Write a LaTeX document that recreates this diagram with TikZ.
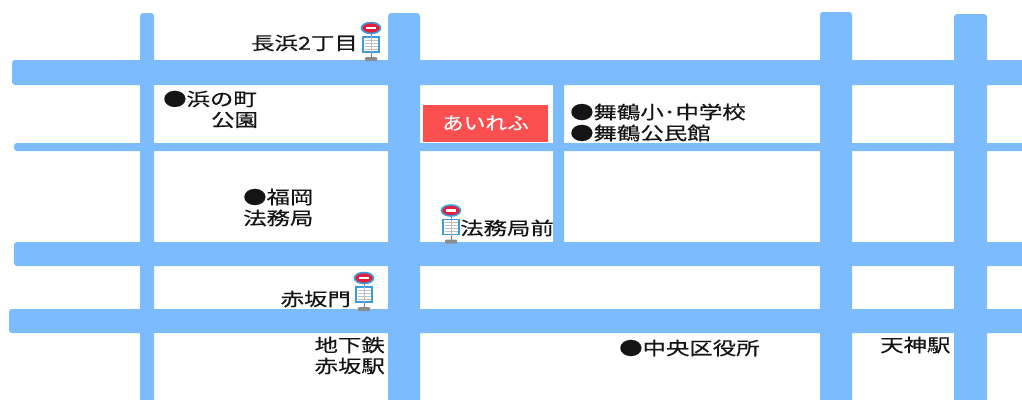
\documentclass[tikz,border=0pt]{standalone}
\usepackage{fontspec}
\setmainfont{Noto Sans CJK JP}[FakeBold=0.35,AutoFakeBold=false]
\newcommand{\maplabel}[1]{\scalebox{1.3}[1]{\addfontfeature{FakeBold=0.35}#1}}
\definecolor{road}{HTML}{7DBBFF}
\definecolor{shopred}{HTML}{FB4F50}
\definecolor{signblue}{HTML}{3F9BDD}
\definecolor{signred}{HTML}{E0203A}
\tikzset{
  x=1pt,y=-1pt,
  roadline/.style={fill=road,draw=none,rounded corners=3pt},
  place/.style={inner sep=0pt,font=\fontsize{18}{22}\selectfont,text=black!92,align=left},
  placer/.style={place,anchor=east,align=right},
  busstop/.pic={
    \fill[black!45,rounded corners=1pt] (-6,21) rectangle (6,25);
    \draw[black!50,line width=.8pt] (0,-3) -- (0,22);
    \fill[white] (-8,1) rectangle (8,16);
    \draw[signblue,line width=1.2pt] (-8,1) rectangle (8,16);
    \foreach \yy in {4,7,10,13}{\draw[black!25,line width=.5pt] (-6.5,\yy) -- (6.5,\yy);}
    \draw[black!25,line width=.5pt] (0,1) -- (0,16);
    \fill[signred,draw=signblue,line width=1.6pt] (0,-8) ellipse (9.5 and 5.5);
    \fill[white] (-5,-9.2) rectangle (5,-6.8);
  }
}
\begin{document}
\begin{tikzpicture}
\useasboundingbox (0,0) rectangle (1022,399);
% roads
\fill[roadline] (140,13) rectangle (154,405);
\fill[roadline] (388,13) rectangle (420,405);
\fill[roadline] (553,80) rectangle (564,247);
\fill[roadline] (820,12) rectangle (852,405);
\fill[roadline] (954,14) rectangle (987,405);
\fill[roadline] (12,60) rectangle (1030,85);
\fill[roadline] (14,143) rectangle (1030,151);
\fill[roadline] (14,242) rectangle (1030,266);
\fill[roadline] (9,309) rectangle (1030,333);
% shop
\node[fill=shopred,draw=none,minimum width=125pt,minimum height=37pt,inner sep=0pt,text=white,font=\fontsize{18}{20}\selectfont] (shop) at (485.5,123) {\scalebox{1.2}[1]{あいれふ}};
% bus stops
\pic at (371,36) {busstop};
\pic at (451,218.5) {busstop};
\pic at (364,286) {busstop};
% labels
\node[placer] (nagahama) at (358,43) {\maplabel{長浜2丁目}};
\node[place,anchor=west] (houmukyokumae) at (460,228) {\maplabel{法務局前}};
\node[placer] (akasakamon) at (351,299) {\maplabel{赤坂門}};
\node[place,anchor=west] (hamanocho) at (163,99) {\maplabel{●浜の町}};
\node[place,anchor=west] (kouen) at (211,120) {\maplabel{公園}};
\node[place,anchor=west] (maizuru1) at (570,112) {\maplabel{●舞鶴小･中学校}};
\node[place,anchor=west] (maizuru2) at (570,133) {\maplabel{●舞鶴公民館}};
\node[place,anchor=west] (fukuoka) at (243,197) {\maplabel{●福岡}};
\node[place,anchor=west] (houmu) at (243,218) {\maplabel{法務局}};
\node[placer] (chikatetsu) at (385,345) {\maplabel{地下鉄}};
\node[placer] (akasakaeki) at (385,366) {\maplabel{赤坂駅}};
\node[place,anchor=west] (chuo) at (619,348) {\maplabel{●中央区役所}};
\node[place,anchor=west] (tenjin) at (880,345) {\maplabel{天神駅}};
\end{tikzpicture}
\end{document}
